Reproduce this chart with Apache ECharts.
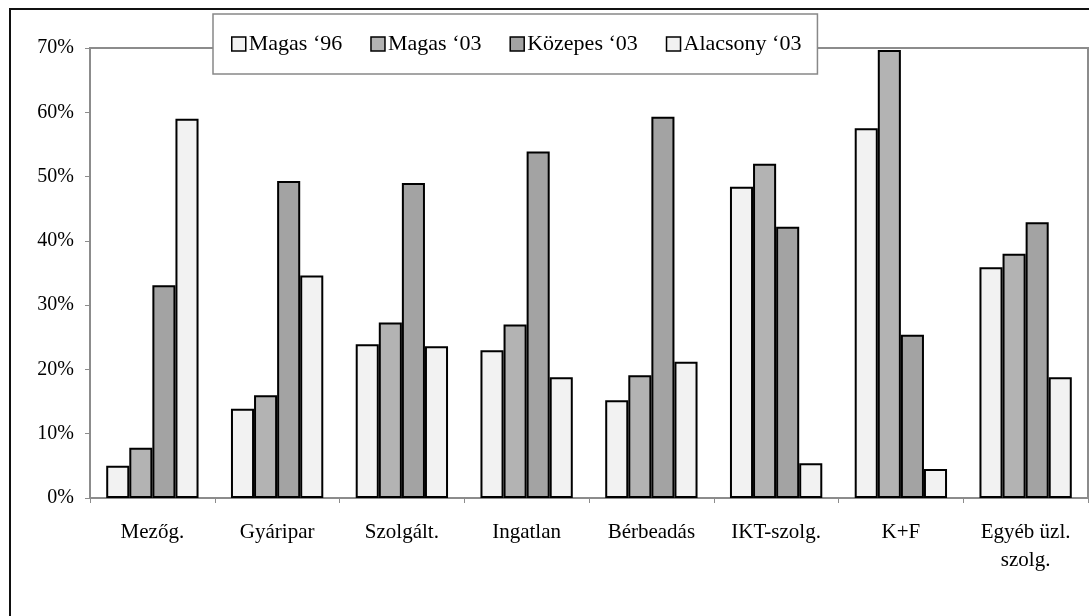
<!DOCTYPE html>
<html>
<head>
<meta charset="utf-8">
<script src="https://cdn.jsdelivr.net/npm/echarts@6/dist/echarts.min.js"></script>
<style>html,body{margin:0;padding:0;background:#fff}#c{width:1089px;height:616px}</style>
</head>
<body>
<div id="c"></div>
<script>
const categories = ['Mezőg.', 'Gyáripar', 'Szolgált.', 'Ingatlan', 'Bérbeadás', 'IKT-szolg.', 'K+F', 'Egyéb üzl.\nszolg.'];
const seriesNames = ['Magas ‘96', 'Magas ‘03', 'Közepes ‘03', 'Alacsony ‘03'];
const magas96 = [5.0, 13.9, 23.9, 23.0, 15.2, 48.4, 57.5, 35.9];
const magas03 = [7.8, 16.0, 27.3, 27.0, 19.1, 52.0, 69.7, 38.0];
const kozepes03 = [33.1, 49.3, 49.0, 53.9, 59.3, 42.2, 25.4, 42.9];
const alacsony03 = [59.0, 34.6, 23.6, 18.8, 21.2, 5.4, 4.5, 18.8];
const yTicks = [0, 10, 20, 30, 40, 50, 60, 70];

const colors = ['#f2f2f2', '#b3b3b3', '#a3a3a3', '#f2f2f2'];
const values = [magas96, magas03, kozepes03, alacsony03];
const font = '"Liberation Serif", "Times New Roman", serif';

const chart = echarts.init(document.getElementById('c'), null, {renderer: 'canvas'});
chart.setOption({
  animation: false,
  backgroundColor: '#fff',
  textStyle: {fontFamily: font},
  graphic: [{
    type: 'rect', z: -10, silent: true,
    shape: {x: 10, y: 9, width: 1200, height: 700},
    style: {fill: 'none', stroke: '#111', lineWidth: 2}
  }],
  legend: {
    left: 213, top: 14,
    padding: [19, 16, 19, 18],
    backgroundColor: '#fff',
    borderColor: '#888', borderWidth: 1.5,
    itemWidth: 14, itemHeight: 14, itemGap: 28,
    icon: 'rect',
    textStyle: {fontFamily: font, fontSize: 22, color: '#000', padding: [0, 0, 0, -2]},
    itemStyle: {borderColor: '#000', borderWidth: 1.5},
    data: seriesNames
  },
  grid: {
    left: 90, right: 1, top: 48, bottom: 118,
    show: true, borderColor: '#8c8c8c', borderWidth: 2, backgroundColor: 'transparent'
  },
  xAxis: {
    type: 'category', data: categories,
    axisLine: {lineStyle: {color: '#8c8c8c', width: 2}},
    axisTick: {show: true, length: 5, lineStyle: {color: '#8c8c8c', width: 1}},
    axisLabel: {fontFamily: font, fontSize: 21, color: '#000', margin: 20, lineHeight: 28}
  },
  yAxis: {
    type: 'value', min: 0, max: 70, interval: 10,
    axisLine: {show: true, lineStyle: {color: '#8c8c8c', width: 2}},
    axisTick: {show: true, length: 5, lineStyle: {color: '#8c8c8c', width: 1}},
    splitLine: {show: false},
    axisLabel: {fontFamily: font, fontSize: 20, color: '#000', margin: 16, formatter: '{value}%',
      customValues: yTicks}
  },
  series: seriesNames.map((n, i) => ({
    name: n, type: 'bar', data: values[i],
    barGap: '0%', barCategoryGap: '26%',
    itemStyle: {color: colors[i], borderColor: '#000', borderWidth: 2}
  }))
});
</script>
</body>
</html>
